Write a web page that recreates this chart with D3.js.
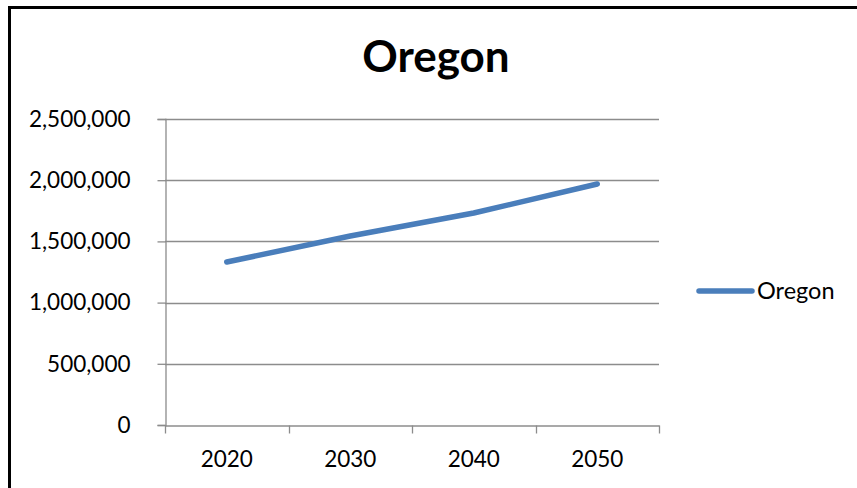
<!DOCTYPE html>
<html><head><meta charset="utf-8">
<script src="https://cdn.jsdelivr.net/npm/d3@7"></script>
<style>body{margin:0;background:#fff}svg{display:block}text{font-family:Lato,"Open Sans",sans-serif}</style>
</head><body><svg id="c" width="857" height="488"></svg>
<script>
const years = ["2020","2030","2040","2050"];
const oregon = [1332000, 1544000, 1732000, 1969000];
const yTicks = [0, 500000, 1000000, 1500000, 2000000, 2500000];
const seriesName = "Oregon";
const title = "Oregon";

const svg = d3.select("#c");
const m = {l:165, r:659, t:119, b:425};
// outer border (cropped at right and bottom)
svg.append("path").attr("d","M9.5,500 L9.5,7.5 L870,7.5").attr("fill","none").attr("stroke","#000").attr("stroke-width",3);

const x = d3.scaleBand().domain(years).range([m.l,m.r]);
const y = d3.scaleLinear().domain([0,2500000]).range([m.b,m.t]);

// gridlines
svg.append("g").selectAll("line").data(yTicks.slice(1)).join("line")
  .attr("x1",m.l).attr("x2",m.r).attr("y1",d=>Math.round(y(d))+0.5).attr("y2",d=>Math.round(y(d))+0.5)
  .attr("stroke","#8c8c8c").attr("stroke-width",1.3);

const fmt = d3.format(",");
const ya = svg.append("g").attr("transform",`translate(${m.l+0.5},0)`)
  .call(d3.axisLeft(y).tickValues(yTicks).tickFormat(fmt).tickSize(8).tickPadding(27));
ya.select(".domain").attr("stroke","#8c8c8c").attr("stroke-width",1.3);
ya.selectAll(".tick line").attr("stroke","#8c8c8c").attr("stroke-width",1.3);
ya.selectAll("text").attr("font-size",22.5).attr("fill","#000");

const xa = svg.append("g").attr("transform",`translate(0,${m.b+0.5})`)
  .call(d3.axisBottom(x).tickSize(0).tickPadding(26));
xa.select(".domain").attr("stroke","#8c8c8c").attr("stroke-width",1.3);
xa.selectAll("text").attr("font-size",22.5).attr("fill","#000");
// category boundary ticks
const bounds = years.map(d=>x(d)).concat([m.r]);
xa.append("g").selectAll("line").data(bounds).join("line")
  .attr("x1",d=>Math.round(d)+0.5).attr("x2",d=>Math.round(d)+0.5).attr("y1",0).attr("y2",8)
  .attr("stroke","#8c8c8c").attr("stroke-width",1.3);

// line
const line = d3.line().x((d,i)=>x(years[i])+x.bandwidth()/2).y(d=>y(d));
svg.append("path").datum(oregon).attr("d",line).attr("fill","none")
  .attr("stroke","#4a7ebb").attr("stroke-width",5.5).attr("stroke-linecap","round").attr("stroke-linejoin","round");

// title
svg.append("text").attr("x",436).attr("y",72).attr("text-anchor","middle")
  .attr("font-size",44).attr("font-weight","bold").text(title);

// legend
svg.append("line").attr("x1",699).attr("x2",752).attr("y1",291).attr("y2",291)
  .attr("stroke","#4a7ebb").attr("stroke-width",5.5).attr("stroke-linecap","round");
svg.append("text").attr("x",757).attr("y",299).attr("font-size",23.5).text(seriesName);
</script></body></html>
